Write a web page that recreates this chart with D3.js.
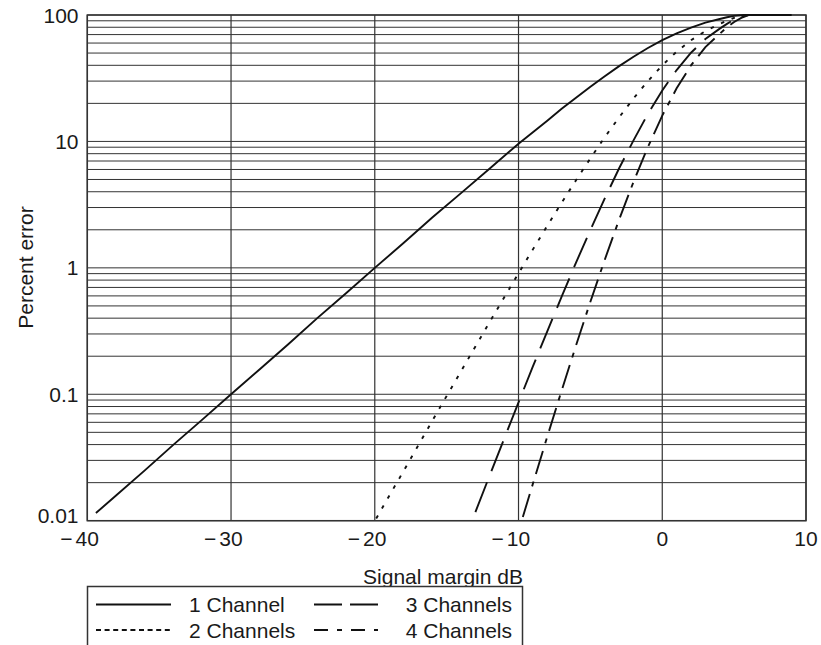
<!DOCTYPE html>
<html><head><meta charset="utf-8">
<script src="https://cdn.jsdelivr.net/npm/d3@7"></script>
<style>
body{margin:0;background:#fff}
svg{display:block}
text{font-family:"Liberation Sans",Arial,Helvetica,sans-serif;fill:#1a1a1a}
</style>
</head><body>
<svg id="c" width="821" height="645"></svg>
<script>
// ---- data ----
const xTicks = [-40, -30, -20, -10, 0, 10];
const yTickValues = [0.01, 0.1, 1, 10, 100];
const yTickLabels = ["0.01", "0.1", "1", "10", "100"];
const seriesNames = ["1 Channel", "2 Channels", "3 Channels", "4 Channels"];

const ch1X = [-39.4, -38, -36, -34, -32, -30, -28, -26, -24, -22, -20, -18, -16, -14, -12, -10, -9, -8, -7, -6, -5, -4, -3, -2, -1, 0, 1, 2, 3, 4, 4.5, 5, 5.5, 6, 7, 8, 9];
const ch1Y = [0.0115, 0.0158, 0.025, 0.04, 0.063, 0.1, 0.158, 0.25, 0.4, 0.63, 1.0, 1.57, 2.5, 3.9, 6.1, 9.6, 11.8, 14.6, 18.1, 22.2, 27.1, 32.8, 39.4, 46.7, 54.8, 63.2, 71.6, 79.6, 87, 93, 96, 98.5, 99.5, 100, 100, 100, 100];

const ch2X = [-19.9, -19, -18, -17, -16, -15, -14, -13, -12, -11, -10, -9, -8, -7, -6, -5, -4, -3, -2, -1, 0, 1, 2, 3, 4, 4.5, 5, 5.5, 6];
const ch2Y = [0.0104, 0.0157, 0.0247, 0.039, 0.0616, 0.097, 0.152, 0.239, 0.374, 0.583, 0.906, 1.40, 2.15, 3.27, 4.93, 7.35, 10.8, 15.5, 21.9, 30.0, 40.0, 51.3, 63.2, 74.6, 85, 90, 95, 99, 100];

const ch3X = [-13, -12, -11, -10, -9, -8, -7, -6, -5, -4, -3, -2, -1, 0, 1, 2, 3, 4, 4.5, 5, 5.5, 6];
const ch3Y = [0.0117, 0.0229, 0.0445, 0.0862, 0.166, 0.315, 0.592, 1.10, 1.99, 3.54, 6.13, 10.2, 16.5, 25.3, 36.7, 50.3, 64.5, 78, 85, 92, 98, 100];

const ch4X = [-9.7, -9, -8, -7, -6, -5, -4, -3, -2, -1, 0, 1, 2, 3, 4, 4.5, 5, 5.5, 6];
const ch4Y = [0.0107, 0.0196, 0.0462, 0.107, 0.243, 0.540, 1.16, 2.41, 4.79, 9.03, 16.0, 26.3, 40.0, 55.7, 71, 80, 88, 95, 100];

const seriesX = [ch1X, ch2X, ch3X, ch4X];
const seriesY = [ch1Y, ch2Y, ch3Y, ch4Y];
const plotDash = [null, "3.5,8", "32,12", "24,8,5,8"];
const legendDash = [null, "5,3.6", "28,8", "14,9,5,9"];

// ---- drawing ----
const svg = d3.select("#c");
const L = 87.3, R = 806, T = 15, B = 520.7;
const FS = 21;
const x = d3.scaleLinear().domain([-40, 10]).range([L, R]);
const y = d3.scaleLog().domain([0.01, 100]).range([B, T]);

const grid = svg.append("g");
grid.selectAll("line.h").data(y.ticks()).join("line")
  .attr("x1", L).attr("x2", R)
  .attr("y1", d => y(d)).attr("y2", d => y(d))
  .attr("stroke", "#333").attr("stroke-width", 1);
grid.selectAll("line.v").data(xTicks).join("line")
  .attr("x1", d => x(d)).attr("x2", d => x(d))
  .attr("y1", T).attr("y2", B)
  .attr("stroke", "#333").attr("stroke-width", 1.2);
svg.append("rect").attr("x", L).attr("y", T).attr("width", R - L).attr("height", B - T)
  .attr("fill", "none").attr("stroke", "#333").attr("stroke-width", 1.5);

// y tick labels
svg.append("g").selectAll("text").data(yTickValues).join("text")
  .attr("x", 78.5).attr("y", (d, i) => y(d) + (i === 0 ? 2 : 7.5))
  .attr("text-anchor", "end").attr("font-size", FS)
  .text((d, i) => yTickLabels[i]);

// x tick labels (digits centred on the line, minus sign hanging left)
const xl = svg.append("g");
xTicks.forEach(v => {
  const t = xl.append("text").attr("x", x(v)).attr("y", B + 25)
    .attr("text-anchor", "middle").attr("font-size", FS).text(String(Math.abs(v)));
  if (v < 0) {
    const w = t.node().getComputedTextLength();
    xl.append("text").attr("x", x(v) - w / 2 - 3).attr("y", B + 25)
      .attr("text-anchor", "end").attr("font-size", FS).text("\u2212");
  }
});

// axis titles
svg.append("text").attr("x", 443).attr("y", 584).attr("text-anchor", "middle")
  .attr("font-size", FS).text("Signal margin dB");
svg.append("text").attr("transform", "translate(33,267.5) rotate(-90)")
  .attr("text-anchor", "middle").attr("font-size", FS).text("Percent error");

// curves
const line = d3.line().x(d => x(d[0])).y(d => y(d[1]));
seriesX.forEach((xs, i) => {
  const pts = xs.map((v, j) => [v, seriesY[i][j]]);
  svg.append("path").datum(pts).attr("d", line)
    .attr("fill", "none").attr("stroke", "#111").attr("stroke-width", 1.9)
    .attr("stroke-dasharray", plotDash[i]);
});

// legend
const lg = svg.append("g");
lg.append("rect").attr("x", 87.5).attr("y", 586.5).attr("width", 435).attr("height", 80)
  .attr("fill", "#fff").attr("stroke", "#333").attr("stroke-width", 1.5);
const legPos = [
  {lx1: 96, lx2: 171, tx: 189, anchor: "start", ty: 604.5},
  {lx1: 96, lx2: 171, tx: 189, anchor: "start", ty: 630},
  {lx1: 314, lx2: 378, tx: 512, anchor: "end", ty: 604.5},
  {lx1: 314, lx2: 378, tx: 512, anchor: "end", ty: 630}
];
seriesNames.forEach((n, i) => {
  const p = legPos[i];
  lg.append("line").attr("x1", p.lx1).attr("x2", p.lx2).attr("y1", p.ty).attr("y2", p.ty)
    .attr("stroke", "#111").attr("stroke-width", 1.9).attr("stroke-dasharray", legendDash[i]);
  lg.append("text").attr("x", p.tx).attr("y", p.ty + 7.5).attr("text-anchor", p.anchor)
    .attr("font-size", FS).text(n);
});
</script>
</body></html>
